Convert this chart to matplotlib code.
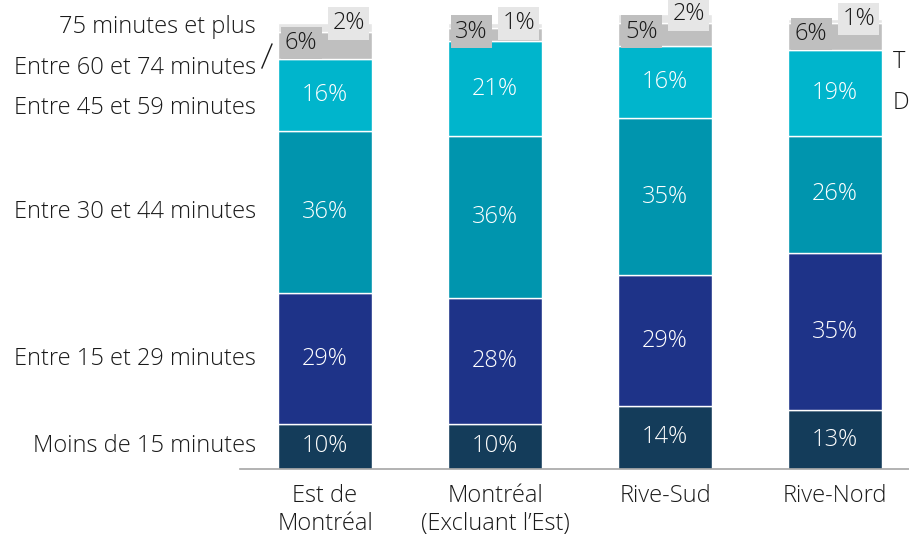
import numpy as np
import matplotlib.pyplot as plt

# Data
regions = ['Est de\nMontréal', 'Montréal\n(Excluant l\u2019Est)', 'Rive-Sud', 'Rive-Nord']
durations = ['Moins de 15 minutes', 'Entre 15 et 29 minutes', 'Entre 30 et 44 minutes',
             'Entre 45 et 59 minutes', 'Entre 60 et 74 minutes', '75 minutes et plus']
moins15 = [10, 10, 14, 13]
e15_29 = [29, 28, 29, 35]
e30_44 = [36, 36, 35, 26]
e45_59 = [16, 21, 16, 19]
e60_74 = [6, 3, 5, 6]
plus75 = [2, 1, 2, 1]

series = [moins15, e15_29, e30_44, e45_59, e60_74, plus75]
colors = ['#143C5A', '#1E3388', '#0095AE', '#00B5CC', '#BFBFBF', '#E6E6E6']

plt.rcParams['font.family'] = ['Open Sans', 'DejaVu Sans']
FS = 17

fig = plt.figure(figsize=(9.09, 5.35), dpi=100)
ax = fig.add_axes([240 / 909, 66 / 535, 669 / 909, 469 / 535])

x = np.arange(len(regions))
w = 0.553
bottom = np.zeros(len(regions))
for i, (vals, c) in enumerate(zip(series, colors)):
    vals = np.array(vals, dtype=float)
    ax.bar(x, vals, w, bottom=bottom, color=c, edgecolor='white', linewidth=1)
    for j in range(len(regions)):
        if i < 4:
            ax.text(x[j], bottom[j] + vals[j] / 2, f'{int(vals[j])}%', ha='center', va='center',
                    color='white', fontsize=FS, fontweight='light')
        elif i == 4:
            ax.text(x[j] - 0.14, bottom[j] + vals[j] / 2 + 0.7, f'{int(vals[j])}%', ha='center',
                    va='center', color='#1a1a1a', fontsize=FS, fontweight='light',
                    bbox=dict(facecolor=c, edgecolor='none', pad=3))
        else:
            ax.text(x[j] + 0.14, bottom[j] + vals[j], f'{int(vals[j])}%', ha='center',
                    va='center', color='#1a1a1a', fontsize=FS, fontweight='light',
                    bbox=dict(facecolor=c, edgecolor='none', pad=3))
    bottom += vals

# left-side labels (aligned with first bar)
label_y = [10 / 2, 10 + 29 / 2, 39 + 36 / 2, 80.2, 89.1, 98.2]
for lab, yy in zip(durations, label_y):
    ax.text(-0.406, yy, lab, ha='right', va='center', fontsize=FS, fontweight='light',
            color='#1a1a1a', clip_on=False)
ax.plot([-0.371, -0.312], [89.1, 94.4], color='#1a1a1a', lw=1, clip_on=False)

# cropped legend text on the right
ax.text(3.34, 90.4, 'T', ha='left', va='center', fontsize=FS, fontweight='light', color='#1a1a1a')
ax.text(3.34, 81.3, 'D', ha='left', va='center', fontsize=FS, fontweight='light', color='#1a1a1a')

ax.set_xlim(-0.5, 3.435)
ax.set_ylim(0, 104.2)
ax.set_xticks(x)
ax.set_xticklabels(regions, fontsize=FS, fontweight='light', color='#1a1a1a', linespacing=1.2)
ax.tick_params(axis='x', length=0, pad=11)
ax.set_yticks([])
for s in ['top', 'right', 'left']:
    ax.spines[s].set_visible(False)
ax.spines['bottom'].set_color('#A6A6A6')
ax.spines['bottom'].set_linewidth(1.2)

fig.savefig('out.png', dpi=100)
